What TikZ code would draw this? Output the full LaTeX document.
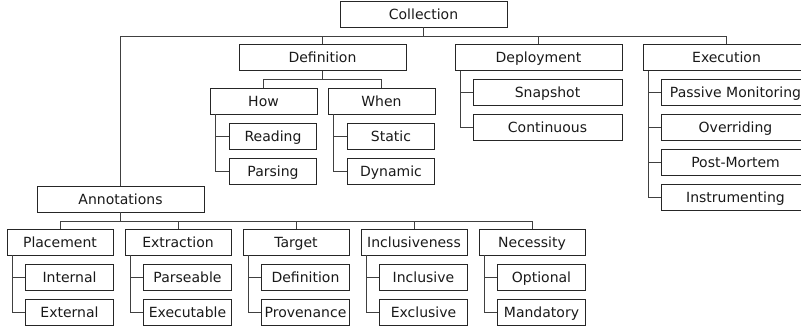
\documentclass[tikz,border=0pt]{standalone}
\usepackage{fontspec}
\setmainfont{DejaVu Sans}
\usepackage{tikz}
\usetikzlibrary{calc}

\begin{document}
\begin{tikzpicture}[x=1pt,y=-1pt,
  kasten/.style={draw=black!85,line width=0.9pt,inner sep=0pt,minimum height=26pt,
    text height=12.5pt,text depth=2.3pt,
    font=\fontsize{14}{16}\selectfont,text=black!90},
  gross/.style={kasten,minimum width=167pt},
  mittel/.style={kasten,minimum width=107pt},
  breit/.style={kasten,minimum width=149pt},
  klein/.style={kasten,minimum width=87.5pt},
  linie/.style={draw=black!75,line width=0.9pt}]
\clip (0,0) rectangle (801,327);
%obere Ebene
\node[gross] (collection) at (423.5,14) {Collection};
\node[gross] (definition) at (322.5,57.5) {Definition};
\node[gross] (deployment) at (538.5,57.5) {Deployment};
\node[gross] (execution) at (726.5,57.5) {Execution};
\node[gross] (annotations) at (120.5,199) {Annotations};
\foreach \ziel in {annotations,definition,deployment,execution}{
\draw[linie] (collection.south) -- ++(0,9) -| (\ziel.north);
}
%Definition: How und When
\node[mittel] (how) at (263.5,101) {How};
\node[mittel] (when) at (381.5,101) {When};
\draw[linie] (definition.south) -- ++(0,8) -| (how.north);
\draw[linie] (definition.south) -- ++(0,8) -| (when.north);
\foreach \name/\beschr [count=\i] in {reading/Reading,parsing/Parsing}{
\node[klein] (\name) at (273,101+35*\i) {\beschr};
\draw[linie] ([xshift=6pt]how.south west) |- (\name.west);
}
\foreach \name/\beschr [count=\i] in {static/Static,dynamic/Dynamic}{
\node[klein] (\name) at (391,101+35*\i) {\beschr};
\draw[linie] ([xshift=6pt]when.south west) |- (\name.west);
}
%Deployment und Execution
\foreach \name/\beschr [count=\i] in {snapshot/Snapshot,continuous/Continuous}{
\node[breit] (\name) at (547.5,57.5+35*\i) {\beschr};
\draw[linie] ([xshift=6pt]deployment.south west) |- (\name.west);
}
\foreach \name/\beschr [count=\i] in {passive/Passive Monitoring,overriding/Overriding,postmortem/Post-Mortem,instrumenting/Instrumenting}{
\node[breit] (\name) at (735.5,57.5+35*\i) {\beschr};
\draw[linie] ([xshift=6pt]execution.south west) |- (\name.west);
}
%Annotations mit fuenf Gruppen
\foreach \gruppe/\titel/\ka/\kb [count=\i] in {placement/Placement/Internal/External,
  extraction/Extraction/Parseable/Executable,target/Target/Definition/Provenance,
  inclusiveness/Inclusiveness/Inclusive/Exclusive,necessity/Necessity/Optional/Mandatory}{
\pgfmathsetmacro{\xWert}{60+118*(\i-1)}
\node[kasten,minimum width=106pt] (\gruppe) at (\xWert,242) {\titel};
\node[klein] (\gruppe-a) at (\xWert+9.5,277) {\ka};
\node[klein] (\gruppe-b) at (\xWert+9.5,312) {\kb};
\draw[linie] (annotations.south) -- ++(0,9) -| (\gruppe.north);
\draw[linie] ([xshift=6pt]\gruppe.south west) |- (\gruppe-a.west);
\draw[linie] ([xshift=6pt]\gruppe.south west) |- (\gruppe-b.west);
}
\end{tikzpicture}
\end{document}
